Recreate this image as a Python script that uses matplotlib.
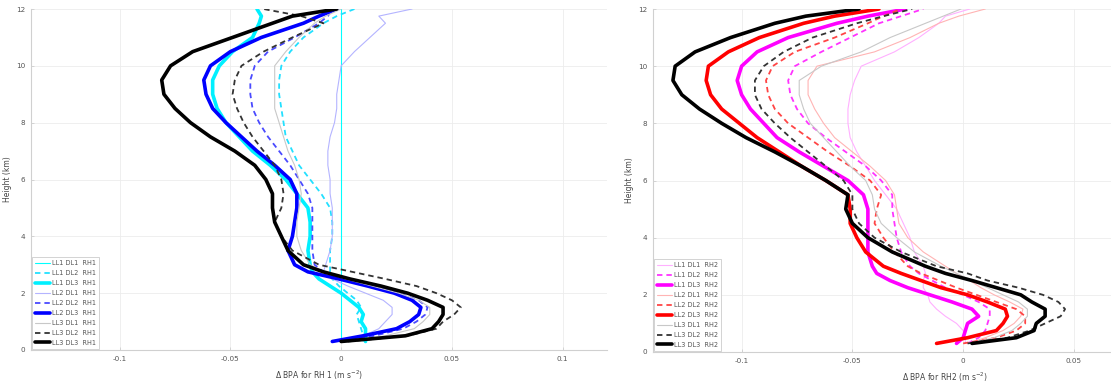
import matplotlib
matplotlib.use("Agg")
import matplotlib.pyplot as plt

# ---------------- data ----------------
height = [0.3, 0.5, 0.75, 1.0, 1.25, 1.5, 1.75, 2.0, 2.25, 2.5, 2.75, 3.0, 3.5, 4.0,
          4.5, 5.0, 5.5, 6.0, 6.5, 7.0, 7.5, 8.0, 8.5, 9.0, 9.5, 10.0, 10.5, 11.0,
          11.5, 11.75, 12.0]

# Left panel (RH1)
rh1_ll1_dl1 = [0.0] * 31
rh1_ll1_dl2 = [0.010, 0.010, 0.009, 0.008, 0.007, 0.009, 0.007, 0.003, -0.001, -0.004,
               -0.005, -0.005, -0.005, -0.004, -0.004, -0.005, -0.009, -0.014, -0.019,
               -0.022, -0.025, -0.026, -0.027, -0.028, -0.028, -0.027, -0.023, -0.017,
               -0.008, -0.002, 0.006]
rh1_ll1_dl3 = [0.011, 0.011, 0.011, 0.009, 0.010, 0.008, 0.004, 0.000, -0.005, -0.010,
               -0.013, -0.014, -0.015, -0.014, -0.014, -0.015, -0.020, -0.025, -0.032,
               -0.040, -0.046, -0.052, -0.056, -0.058, -0.058, -0.055, -0.049, -0.040,
               -0.037, -0.036, -0.038]
rh1_ll2_dl1 = [0.004, 0.010, 0.017, 0.020, 0.023, 0.023, 0.019, 0.011, 0.003, -0.004,
               -0.008, -0.007, -0.005, -0.004, -0.004, -0.004, -0.005, -0.005, -0.006,
               -0.006, -0.005, -0.003, -0.002, -0.002, -0.001, 0.000, 0.006, 0.013,
               0.020, 0.017, 0.032]
rh1_ll2_dl2 = [0.000, 0.015, 0.028, 0.034, 0.038, 0.039, 0.035, 0.026, 0.014, 0.002,
               -0.008, -0.012, -0.013, -0.013, -0.013, -0.013, -0.015, -0.019, -0.023,
               -0.028, -0.033, -0.037, -0.040, -0.041, -0.041, -0.039, -0.033, -0.021,
               -0.010, -0.006, -0.004]
rh1_ll2_dl3 = [-0.004, 0.010, 0.025, 0.031, 0.035, 0.036, 0.032, 0.024, 0.012, -0.001,
               -0.015, -0.021, -0.024, -0.022, -0.021, -0.020, -0.020, -0.023, -0.030,
               -0.038, -0.045, -0.052, -0.058, -0.061, -0.062, -0.059, -0.050, -0.036,
               -0.017, -0.010, -0.002]
rh1_ll3_dl1 = [0.002, 0.020, 0.033, 0.037, 0.040, 0.040, 0.035, 0.026, 0.014, 0.002,
               -0.008, -0.014, -0.018, -0.020, -0.020, -0.019, -0.018, -0.019, -0.021,
               -0.024, -0.026, -0.028, -0.030, -0.030, -0.030, -0.030, -0.025, -0.019,
               -0.012, -0.007, 0.000]
rh1_ll3_dl2 = [0.003, 0.030, 0.043, 0.046, 0.051, 0.054, 0.050, 0.043, 0.034, 0.020,
               0.005, -0.010, -0.022, -0.027, -0.030, -0.027, -0.026, -0.027, -0.030,
               -0.035, -0.040, -0.044, -0.047, -0.049, -0.048, -0.045, -0.035, -0.022,
               -0.008, -0.018, -0.035]
rh1_ll3_dl3 = [0.000, 0.029, 0.041, 0.044, 0.046, 0.046, 0.039, 0.030, 0.018, 0.004,
               -0.008, -0.017, -0.024, -0.027, -0.030, -0.031, -0.031, -0.034, -0.039,
               -0.048, -0.059, -0.068, -0.075, -0.080, -0.081, -0.077, -0.067, -0.049,
               -0.031, -0.022, -0.002]

# Right panel (RH2)
rh2_ll1_dl1 = [0.001, 0.001, 0.000, -0.003, -0.008, -0.012, -0.015, -0.016, -0.018,
               -0.018, -0.017, -0.018, -0.022, -0.024, -0.027, -0.030, -0.035, -0.040,
               -0.044, -0.048, -0.051, -0.052, -0.052, -0.051, -0.049, -0.046, -0.031,
               -0.020, -0.011, -0.008, 0.003]
rh2_ll1_dl2 = [0.002, 0.007, 0.010, 0.011, 0.012, 0.012, 0.007, 0.000, -0.008, -0.014,
               -0.020, -0.024, -0.028, -0.030, -0.031, -0.032, -0.032, -0.037, -0.044,
               -0.053, -0.062, -0.070, -0.075, -0.078, -0.079, -0.076, -0.064, -0.051,
               -0.038, -0.028, -0.018]
rh2_ll1_dl3 = [-0.003, 0.000, 0.001, 0.002, 0.007, 0.004, -0.005, -0.015, -0.025, -0.033,
               -0.039, -0.041, -0.043, -0.043, -0.043, -0.043, -0.045, -0.052, -0.063,
               -0.074, -0.084, -0.090, -0.096, -0.100, -0.102, -0.100, -0.093, -0.079,
               -0.057, -0.043, -0.026]
rh2_ll2_dl1 = [0.002, 0.010, 0.018, 0.023, 0.026, 0.027, 0.021, 0.014, 0.008, 0.003,
               -0.003, -0.008, -0.018, -0.025, -0.029, -0.030, -0.031, -0.035, -0.042,
               -0.050, -0.058, -0.063, -0.067, -0.070, -0.070, -0.066, -0.040, -0.024,
               -0.011, -0.002, 0.010]
rh2_ll2_dl2 = [0.000, 0.015, 0.024, 0.028, 0.028, 0.024, 0.015, 0.006, -0.003, -0.011,
               -0.019, -0.025, -0.031, -0.036, -0.040, -0.039, -0.037, -0.042, -0.051,
               -0.061, -0.070, -0.079, -0.085, -0.088, -0.089, -0.086, -0.076, -0.058,
               -0.043, -0.036, -0.028]
rh2_ll2_dl3 = [-0.012, 0.002, 0.015, 0.018, 0.020, 0.019, 0.011, 0.002, -0.010, -0.019,
               -0.028, -0.036, -0.044, -0.048, -0.051, -0.051, -0.052, -0.062, -0.073,
               -0.083, -0.093, -0.101, -0.109, -0.114, -0.116, -0.115, -0.106, -0.092,
               -0.072, -0.058, -0.038]
rh2_ll3_dl1 = [0.003, 0.014, 0.022, 0.026, 0.029, 0.029, 0.025, 0.018, 0.011, 0.004,
               -0.003, -0.010, -0.022, -0.030, -0.037, -0.040, -0.041, -0.044, -0.051,
               -0.057, -0.063, -0.069, -0.072, -0.074, -0.074, -0.064, -0.046, -0.033,
               -0.017, -0.009, -0.001]
rh2_ll3_dl2 = [0.002, 0.020, 0.030, 0.037, 0.044, 0.046, 0.043, 0.036, 0.025, 0.011,
               0.002, -0.012, -0.028, -0.040, -0.047, -0.050, -0.050, -0.054, -0.062,
               -0.070, -0.078, -0.085, -0.091, -0.094, -0.094, -0.090, -0.081, -0.068,
               -0.048, -0.036, -0.023]
rh2_ll3_dl3 = [0.004, 0.024, 0.032, 0.033, 0.037, 0.037, 0.031, 0.026, 0.015, 0.004,
               -0.008, -0.017, -0.032, -0.043, -0.050, -0.053, -0.052, -0.062, -0.073,
               -0.085, -0.098, -0.109, -0.119, -0.127, -0.131, -0.130, -0.121, -0.105,
               -0.085, -0.071, -0.047]

labels_rh1 = ["LL1 DL1  RH1", "LL1 DL2  RH1", "LL1 DL3  RH1",
              "LL2 DL1  RH1", "LL2 DL2  RH1", "LL2 DL3  RH1",
              "LL3 DL1  RH1", "LL3 DL2  RH1", "LL3 DL3  RH1"]
labels_rh2 = ["LL1 DL1  RH2", "LL1 DL2  RH2", "LL1 DL3  RH2",
              "LL2 DL1  RH2", "LL2 DL2  RH2", "LL2 DL3  RH2",
              "LL3 DL1  RH2", "LL3 DL2  RH2", "LL3 DL3  RH2"]

x_ticks_left = [-0.1, -0.05, 0, 0.05, 0.1]
x_tick_labels_left = ["-0.1", "-0.05", "0", "0.05", "0.1"]
x_ticks_right = [-0.1, -0.05, 0, 0.05]
x_tick_labels_right = ["-0.1", "-0.05", "0", "0.05"]
y_ticks = [0, 2, 4, 6, 8, 10, 12]

# ---------------- styles ----------------
colors_rh1 = ["#00ffff", "#22e0ff", "#00f0ff", "#b4b4ff", "#4a4aff", "#0000ff",
              "#c8c8c8", "#333333", "#000000"]
colors_rh2 = ["#ffb0ff", "#ff33ff", "#ff00ff", "#ffb4b4", "#ff4545", "#ff0000",
              "#c8c8c8", "#333333", "#000000"]
widths = [0.8, 1.3, 2.6, 0.8, 1.3, 2.6, 0.8, 1.3, 2.6]
dash = (0, (3.0, 2.2))
styles = ["-", dash, "-", "-", dash, "-", "-", dash, "-"]

series_rh1 = [rh1_ll1_dl1, rh1_ll1_dl2, rh1_ll1_dl3, rh1_ll2_dl1, rh1_ll2_dl2,
              rh1_ll2_dl3, rh1_ll3_dl1, rh1_ll3_dl2, rh1_ll3_dl3]
series_rh2 = [rh2_ll1_dl1, rh2_ll1_dl2, rh2_ll1_dl3, rh2_ll2_dl1, rh2_ll2_dl2,
              rh2_ll2_dl3, rh2_ll3_dl1, rh2_ll3_dl2, rh2_ll3_dl3]

W, H = 1111, 385
fig = plt.figure(figsize=(W / 100, H / 100), dpi=100)
ax1 = fig.add_axes([31 / W, (H - 350) / H, 576 / W, 341 / H])
# right panel is cut by the figure edge in the reference
ax2 = fig.add_axes([653 / W, (H - 352) / H, (W - 653) / W, 343 / H])

tick_col = "#555555"


def style_axes(ax, series, colors, labels, xlabel, xlim, xt, xtl, xlabel_x):
    for vals, c, lw, ls, lab in zip(series, colors, widths, styles, labels):
        ax.plot(vals, height, color=c, lw=lw, ls=ls, label=lab,
                solid_joinstyle="round", solid_capstyle="round")
    ax.set_xlim(*xlim)
    ax.set_ylim(0, 12)
    ax.set_xticks(xt)
    ax.set_xticklabels(xtl)
    ax.set_yticks(y_ticks)
    ax.grid(True, color="#ececec", lw=0.6)
    ax.set_axisbelow(True)
    for s in ["top", "right"]:
        ax.spines[s].set_visible(False)
    for s in ["left", "bottom"]:
        ax.spines[s].set_color("#d0d0d0")
        ax.spines[s].set_linewidth(0.8)
    ax.tick_params(labelsize=5.2, colors=tick_col, length=2, width=0.5,
                   direction="in", pad=4)
    ax.tick_params(axis="both", color="#c8c8c8")
    ax.set_xlabel(xlabel, fontsize=5.5, color="#444444", labelpad=3)
    ax.xaxis.set_label_coords(xlabel_x, -0.055)
    ax.set_ylabel("Height (km)", fontsize=5.5, color="#444444", labelpad=3)
    leg = ax.legend(loc="lower left", fontsize=4.7, handlelength=2.3,
                    handletextpad=0.2, labelspacing=0.6, borderpad=0.5,
                    borderaxespad=0.15, fancybox=False, framealpha=1)
    leg.get_frame().set_edgecolor("#cccccc")
    leg.get_frame().set_linewidth(0.6)
    for t in leg.get_texts():
        t.set_color("#555555")


style_axes(ax1, series_rh1, colors_rh1, labels_rh1,
           r"$\Delta$ BPA for RH 1 (m s$^{-2}$)", (-0.14, 0.12),
           x_ticks_left, x_tick_labels_left, 0.5)
right_max = -0.14 + 0.26 * (W - 653) / 576
style_axes(ax2, series_rh2, colors_rh2, labels_rh2,
           r"$\Delta$ BPA for RH2 (m s$^{-2}$)", (-0.14, right_max),
           x_ticks_right, x_tick_labels_right, (945 - 653) / (W - 653))

fig.savefig("out.png", dpi=100)
